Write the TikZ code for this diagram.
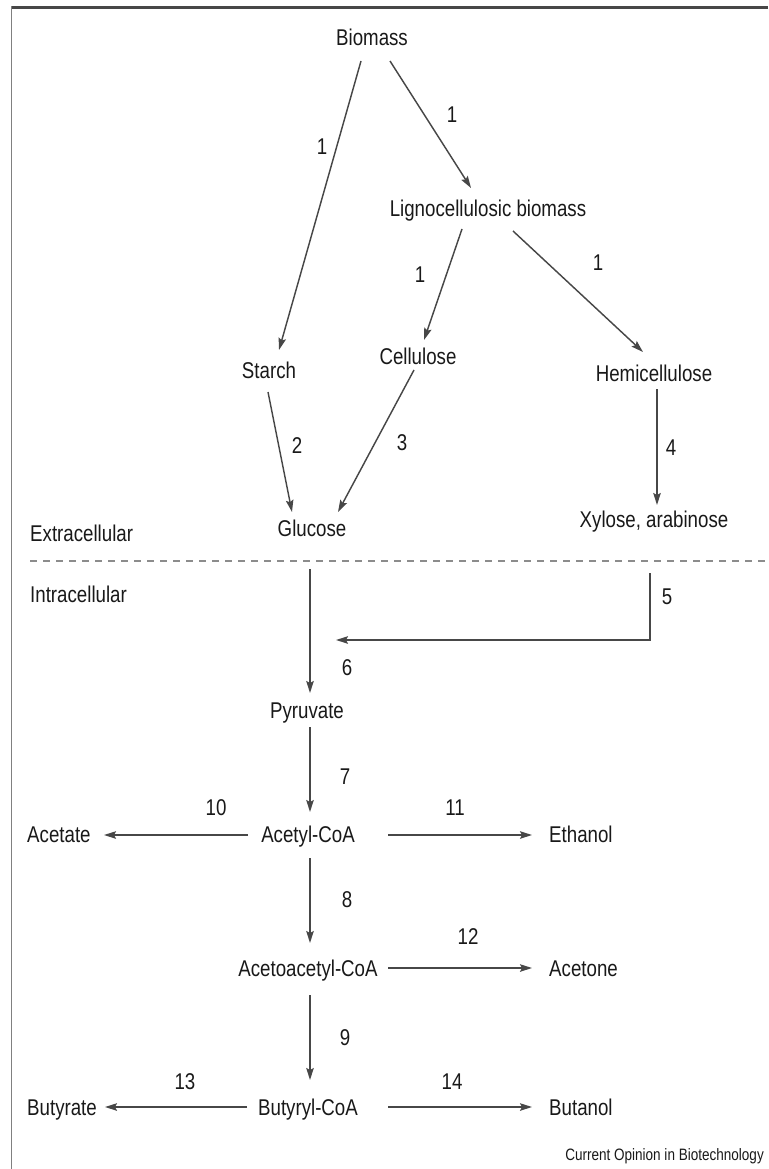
\documentclass[tikz,border=0pt]{standalone}
\usepackage{fontspec}
\setmainfont[FakeStretch=0.82]{Liberation Sans}
\usetikzlibrary{arrows.meta}
\definecolor{txt}{gray}{0.1}
\definecolor{ln}{gray}{0.28}
\begin{document}
\begin{tikzpicture}[x=1pt,y=-1pt,
  lbl/.style={inner sep=0pt,text=txt,font=\fontsize{22.8}{25}\selectfont,anchor=base},
  lblw/.style={lbl,anchor=base west},
  num/.style={inner sep=0pt,text=txt,font=\fontsize{22.8}{25}\selectfont,anchor=center},
  arr/.style={draw=ln,line width=1.45pt,-{Stealth[length=12pt,width=7.5pt,inset=2pt]}},
  plain/.style={draw=ln,line width=1.45pt}]
\useasboundingbox (0,0) rectangle (768,1169);
% frame
\draw[line width=2.2pt,draw=black!72] (768,7.5) -- (10.5,7.5);
\draw[line width=1.8pt,draw=black!50] (11.5,6.5) -- (11.5,1169);
% separator
\draw[line width=1.6pt,draw=black!45,dash pattern=on 7pt off 6pt] (30,561) -- (768,561);
% nodes
\node[lbl] (bio) at (372,46) {Biomass};
\node[lbl] (lig) at (488,216) {Lignocellulosic biomass};
\node[lbl] (sta) at (269,378) {Starch};
\node[lbl] (cel) at (418,364) {Cellulose};
\node[lbl] (hem) at (654,381) {Hemicellulose};
\node[lbl] (glu) at (312,536) {Glucose};
\node[lbl] (xyl) at (654,527) {Xylose, arabinose};
\node[lblw] (ext) at (30,541) {Extracellular};
\node[lblw] (int) at (30,602) {Intracellular};
\node[lbl] (pyr) at (307,718) {Pyruvate};
\node[lbl] (acc) at (308,842) {Acetyl-CoA};
\node[lblw] (ace) at (27,842) {Acetate};
\node[lblw] (eth) at (549,842) {Ethanol};
\node[lbl] (aac) at (308,976) {Acetoacetyl-CoA};
\node[lblw] (acn) at (549,976) {Acetone};
\node[lbl] (buc) at (308,1115) {Butyryl-CoA};
\node[lblw] (but) at (27,1115) {Butyrate};
\node[lblw] (bol) at (549,1115) {Butanol};
\node[inner sep=0pt,text=txt,font=\fontsize{16.5}{18}\selectfont,anchor=base east] (src) at (764,1160) {Current Opinion in Biotechnology};
% numbers
\node[num] (n1a) at (322,147) {1};
\node[num] (n1b) at (452,115) {1};
\node[num] (n1c) at (420,275) {1};
\node[num] (n1d) at (598,263) {1};
\node[num] (n2) at (297,446) {2};
\node[num] (n3) at (402,443) {3};
\node[num] (n4) at (671,448) {4};
\node[num] (n5) at (667,597) {5};
\node[num] (n6) at (347,668) {6};
\node[num] (n7) at (345,777) {7};
\node[num] (n8) at (347,900) {8};
\node[num] (n9) at (345,1038) {9};
\node[num] (n10) at (216,808) {10};
\node[num] (n11) at (455,808) {11};
\node[num] (n12) at (468,937) {12};
\node[num] (n13) at (185,1082) {13};
\node[num] (n14) at (452,1082) {14};
% connectors
\draw[arr] ([shift={(-11,15)}]bio.base) -- ([shift={(10,-28)}]sta.base);
\draw[arr] ([shift={(18,15)}]bio.base) -- ([shift={(-17,-28)}]lig.base);
\draw[arr] ([shift={(-26,13)}]lig.base) -- ([shift={(6,-24)}]cel.base);
\draw[arr] ([shift={(25,15)}]lig.base) -- ([shift={(-11,-29)}]hem.base);
\draw[arr] ([shift={(-1,14)}]sta.base) -- ([shift={(-20,-24)}]glu.base);
\draw[arr] ([shift={(-4,6)}]cel.base) -- ([shift={(26,-24)}]glu.base);
\draw[arr] ([shift={(3,8)}]hem.base) -- ([shift={(3,-22)}]xyl.base);
\draw[arr] ([shift={(-2,33)}]glu.base) -- ([shift={(3,-25)}]pyr.base);
\draw[arr] ([shift={(-4,46)}]xyl.base) |- ([shift={(29,-78)}]pyr.base);
\draw[arr] ([shift={(3,9)}]pyr.base) -- ([shift={(2,-30)}]acc.base);
\draw[arr] ([shift={(-60,-7)}]acc.base) -- ([shift={(77,-7)}]ace.base west);
\draw[arr] ([shift={(80,-7)}]acc.base) -- ([shift={(-17,-7)}]eth.base west);
\draw[arr] ([shift={(2,16)}]acc.base) -- ([shift={(2,-33)}]aac.base);
\draw[arr] ([shift={(80,-8)}]aac.base) -- ([shift={(-17,-8)}]acn.base west);
\draw[arr] ([shift={(2,19)}]aac.base) -- ([shift={(2,-35)}]buc.base);
\draw[arr] ([shift={(-61,-8)}]buc.base) -- ([shift={(78,-8)}]but.base west);
\draw[arr] ([shift={(80,-8)}]buc.base) -- ([shift={(-17,-8)}]bol.base west);
\end{tikzpicture}
\end{document}
